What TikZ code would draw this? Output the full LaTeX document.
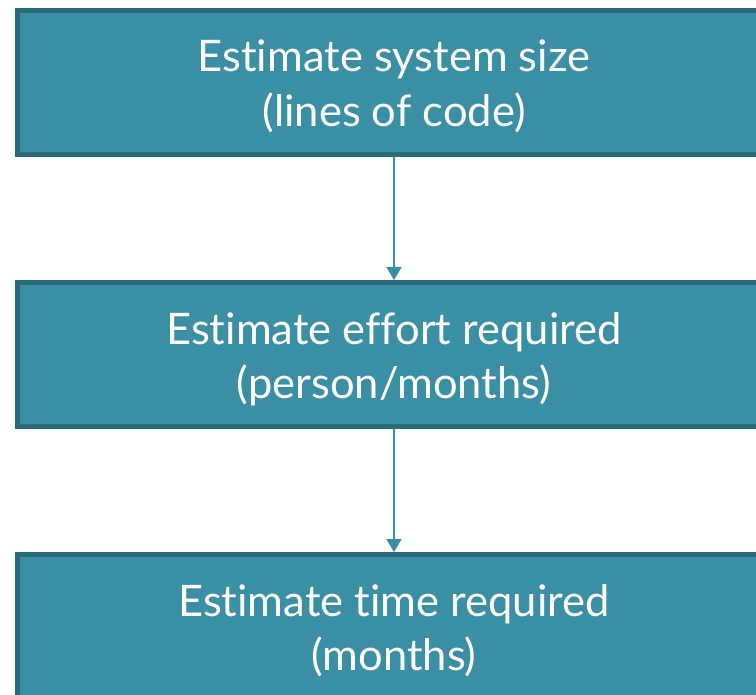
\documentclass[tikz,border=0pt]{standalone}
\usepackage{fontspec}
\setmainfont{Lato}[Ligatures={NoCommon}]
\usetikzlibrary{arrows.meta}
\definecolor{boxfill}{RGB}{58,143,164}
\definecolor{boxline}{RGB}{41,106,123}
\begin{document}
\begin{tikzpicture}[x=1pt,y=1pt,
  stepbox/.style={rectangle, draw=boxline, fill=boxfill, line width=5pt,
    minimum width=753pt, minimum height=144pt, inner sep=0pt,
    text height=100pt, text depth=12pt,
    text=white, align=center, font=\fontsize{43.5}{54.5}\selectfont},
  flow/.style={draw=boxfill, line width=2pt, -{Triangle[width=15pt,length=13pt]}}]
\useasboundingbox (0,0) rectangle (756,-695);
\clip (0,0) rectangle (756,-695);
\node[stepbox] (a) at (394,-82.5) {Estimate system size\\(lines of code)};
\node[stepbox] (b) at (394,-354.5) {Estimate effort required\\(person/months)};
\node[stepbox] (c) at (394,-626.5) {Estimate time required\\(months)};
\draw[flow] (a.south) -- (b.north);
\draw[flow] (b.south) -- (c.north);
\end{tikzpicture}
\end{document}
